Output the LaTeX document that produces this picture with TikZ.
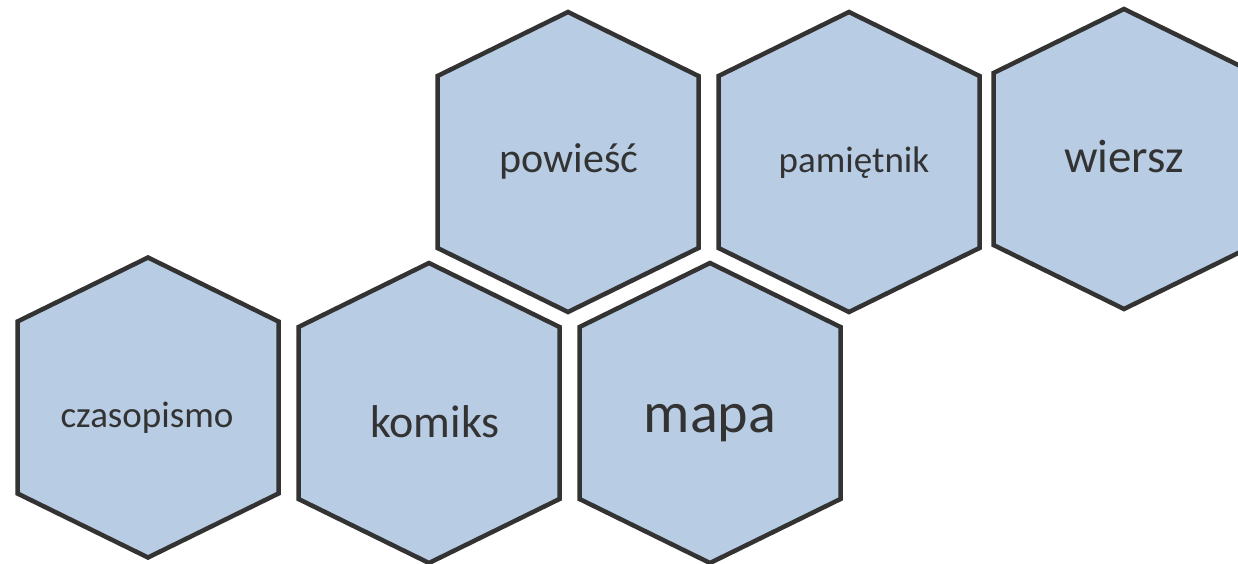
\documentclass[tikz,border=0pt]{standalone}
\usepackage{fontspec}
\setmainfont{Carlito}
\definecolor{hexfill}{HTML}{B8CCE4}
\definecolor{hexline}{HTML}{333333}
\tikzset{
  hexshape/.style={fill=hexfill, draw=hexline, line width=4.5pt, line join=miter},
  lbl/.style={text=hexline, inner sep=0pt, anchor=base}
}
\newcommand\hexpath[1]{(#1) ++(0,-150) -- ++(130.5,64) -- ++(0,172) -- ++(-130.5,64) -- ++(-130.5,-64) -- ++(0,-172) -- cycle}
\begin{document}
\begin{tikzpicture}[x=1pt,y=-1pt]
\useasboundingbox (0,0) rectangle (1238,563);
\clip (0,0) rectangle (1238,563);
\coordinate (c1) at (568,162);
\coordinate (c2) at (849,162);
\coordinate (c3) at (1124,159);
\coordinate (c4) at (148,407.5);
\coordinate (c5) at (429,413);
\coordinate (c6) at (710,413);
\foreach \c in {c1,c2,c3,c4,c5,c6}{\draw[hexshape] \hexpath{\c};}
\node[lbl, font=\fontsize{42}{50}\selectfont] (powiesc) at (569,172) {powieść};
\node[lbl, font=\fontsize{37}{44}\selectfont] (pamietnik) at (854,172) {pamiętnik};
\node[lbl, font=\fontsize{47}{56}\selectfont] (wiersz) at (1124,172) {wiersz};
\node[lbl, font=\fontsize{37}{44}\selectfont] (czasopismo) at (147,427) {czasopismo};
\node[lbl, font=\fontsize{46}{55}\selectfont] (komiks) at (435,437) {komiks};
\node[lbl, font=\fontsize{58}{70}\selectfont] (mapa) at (710,432) {mapa};
\end{tikzpicture}
\end{document}
